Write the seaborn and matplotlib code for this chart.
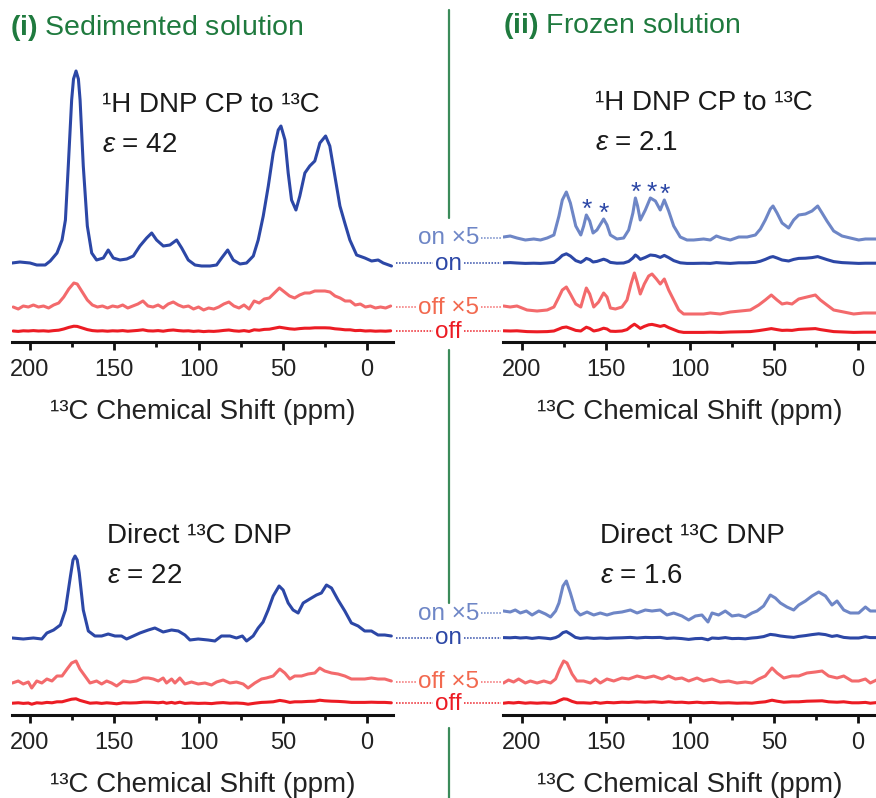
import numpy as np
import pandas as pd
import seaborn as sns
import matplotlib.pyplot as plt
from matplotlib.ticker import MultipleLocator

# Spectra: (ppm, intensity) with intensity in px above the trace baseline.
# "x5" traces are the magnified copies; the plain trace is the same spectrum / 5.

# (i) sedimented, 1H DNP CP to 13C, microwaves on
sed_cp_on = [
    (210.7, 0), (206, 1), (200, 0), (196, -2), (191, -2), (188, 2), (184, 10), (181, 23),
    (179, 43), (177.3, 97), (175.3, 163), (174.2, 184), (172.7, 192), (171.3, 184), (170.3, 163),
    (168.4, 97), (166, 37),
    (163.4, 10), (160.5, 3), (156.5, 5), (153.6, 13), (150.6, 5), (146.6, 3), (142.6, 4),
    (138.7, 7), (134.8, 17), (130.8, 25), (127.8, 30), (124.9, 23), (120.9, 17), (117, 18),
    (113, 23), (110, 15), (106.1, 3), (102.1, -2), (98.2, -3), (93.2, -3), (89.3, -2),
    (86.3, 5), (82.7, 13), (79.4, 3), (75.4, -1), (71.5, 0), (67.5, 7), (64.6, 23), (61.6, 47),
    (58.6, 77), (55.7, 110), (52.7, 133), (51.1, 137), (48.7, 123), (46.8, 90), (44.8, 63),
    (42.2, 53), (39.9, 67), (36.9, 90), (34, 97), (31, 102), (28, 120), (24.6, 127),
    (22.1, 117), (19.1, 87), (16.1, 57), (13.2, 40), (10.2, 23), (6.2, 8), (1.3, 5),
    (-2.7, 2), (-6.6, 3), (-9.6, 0), (-14.5, -3),
]
# (i) sedimented, CP, microwaves off (x5 trace)
sed_cp_off_x5 = [
    (210, 0), (207, -2), (204, 1), (201, 0), (198, 2), (195, 0), (192, 1), (189, -1), (186, 2),
    (183, 4), (180, 10), (177, 18), (174, 24), (172, 23), (169, 15), (166, 7), (163, 2), (160, 0),
    (157, 1), (154, -1), (151, 1), (148, 0), (145, 2), (142, -1), (139, 1), (136, 3), (133, 6),
    (130, 1), (127, 0), (124, 2), (121, -1), (118, 3), (115, 5), (112, 2), (109, 0), (106, 1),
    (103, -2), (100, 0), (97, -3), (94, -1), (91, -2), (88, 0), (85, 3), (82, 5), (79, 1),
    (76, -1), (73, 2), (70, -2), (67, 6), (64, 4), (61, 8), (58, 9), (55, 14), (52, 19), (49, 15),
    (46, 11), (43, 9), (40, 12), (37, 14), (34, 14), (31, 16), (28, 16), (25, 16), (22, 15),
    (19, 11), (16, 9), (13, 6), (10, 6), (7, 2), (4, 3), (1, 0), (-2, 1), (-5, -1), (-8, 0),
    (-11, -1), (-14, 1),
]
# (ii) frozen, CP, microwaves on (x5 trace)
frz_cp_on_x5 = [
    (211, 1), (207, 2), (203, 0), (198, -2), (193, -1), (189, -2), (185, 0), (181, 3), (178, 22),
    (176, 38), (173.6, 46), (171.2, 35), (168, 12), (165, 3), (163.3, 12), (161.7, 23),
    (159.7, 17), (157.7, 5), (155.4, 8), (151.4, 19), (149.4, 13), (147.4, 3), (143.5, -1),
    (139.5, 0), (136.5, 8), (134, 25), (132.5, 40), (131.2, 32), (129.6, 18), (126.6, 28),
    (123.6, 40), (120.6, 37), (117.7, 28), (115.3, 38), (112.7, 27), (109.7, 12), (105.8, 1),
    (101.8, -2), (97.8, -2), (91.9, -1), (87.9, -2), (84.3, 2), (81, 0), (76, -2), (71, 1),
    (66, 1), (61.1, 3), (58.1, 9), (55.2, 18), (52.2, 29), (50.6, 32), (48.2, 25), (45.2, 15),
    (41.3, 10), (38.3, 18), (35.3, 23), (31.3, 24), (27.4, 27), (24, 32), (21.4, 25),
    (18.5, 17), (14.5, 7), (9.5, 2), (4.6, 0), (-0.4, -2), (-4.4, -1), (-11, -1),
]
# (ii) frozen, CP, microwaves off (x5 trace)
frz_cp_off_x5 = [
    (211, 1), (207, 0), (203, 1), (197, -3), (191, -4), (185, -3), (181, 0), (178, 10), (176, 17),
    (173.6, 20), (171.2, 13), (168, 3), (165, 0), (163.3, 10), (161.7, 19), (159.7, 13),
    (157.3, 0), (154.4, 5), (151.4, 14), (149.4, 10), (147.4, -1), (144.4, -2), (140.5, 0),
    (137.5, 7), (135.1, 23), (133.1, 34), (131.5, 25), (129.6, 13), (127.2, 23), (124.6, 31),
    (122.6, 33), (120, 28), (117.7, 23), (115.3, 28), (112.7, 17), (109.7, 7), (106.7, -3),
    (103.8, -7), (97.8, -7), (91.9, -7), (87.9, -6), (82, -7), (76, -5), (70, -4), (64.1, -3),
    (59.1, 2), (55.2, 7), (51.6, 12), (48.2, 7), (45.2, 3), (42.3, 4), (39.3, 3), (35.3, 8),
    (30.4, 10), (25.4, 12), (22.4, 7), (18.5, 2), (14.5, -3), (8.5, -5), (2.6, -7), (-3.4, -6),
    (-11, -6),
]
# (i) sedimented, direct 13C DNP, microwaves on
sed_dir_on = [
    (210.5, 0), (204, -1), (198, 0), (193, -1), (190, 5), (186, 8), (182, 13), (179, 28),
    (176, 62), (174.5, 78), (173.3, 82), (172, 78), (170.8, 65), (168.4, 28), (165.4, 7),
    (161.5, 2), (157.5, 2),
    (153.6, 4), (149.6, 2), (145.7, 2), (142.7, -1), (138.7, 2), (134.8, 5), (129.8, 8),
    (125.9, 10), (121, 6), (116, 8), (112, 7), (108.1, 3), (105.1, -2), (100.2, -1), (94.3, -2),
    (90.3, -3), (86.4, 2), (81.4, 2), (77.5, 0), (74, 2), (71.5, -3), (67.6, 2), (64.6, 10),
    (61.7, 16), (58.7, 28), (55.7, 42), (52.2, 52), (49.8, 48), (46.8, 35), (43.9, 28),
    (40.9, 25), (37.9, 35), (34, 39), (30, 43), (27.1, 45), (24.1, 53), (21.1, 50), (17.2, 38),
    (13.2, 27), (9.3, 15), (5.3, 12), (1.4, 7), (-2.6, 7), (-6.5, 3), (-10.5, 3), (-14.4, 2),
]
# (i) sedimented, direct, microwaves off (x5 trace)
sed_dir_off_x5 = [
    (210.5, -1), (207, 1), (204, -2), (201, 0), (199, -6), (196, 1), (193, -1), (190, 3),
    (187, 1), (184, 6), (181, 6), (178, 13), (175.3, 19), (172.7, 21), (170.4, 13), (167.4, 6),
    (164.4, -1), (160.5, 1), (157.5, -2), (154.5, 1), (151.6, -1), (148.6, -4), (144.7, 1),
    (140.7, 0), (136.8, 1), (132.8, 4), (129.8, 4), (126.9, 3), (123.9, 1), (121, 4), (119, -1),
    (116, 3), (114, -1), (111.1, 4), (108.1, -2), (104.2, 0), (100.2, -2), (96.2, -1),
    (92.3, -3), (89.3, 0), (85.4, 2), (81.4, -1), (77.5, 0), (73.5, -2), (70.6, -6), (66.6, -1),
    (62.6, 3), (59.7, 4), (55.7, 6), (51.8, 13), (48.8, 9), (45.8, 3), (42.9, 6), (38.9, 6),
    (35, 8), (31, 9), (28.1, 14), (25.1, 11), (21.1, 9), (17.2, 8), (13.2, 6), (9.3, 3),
    (5.3, 3), (1.4, 3), (-2.6, 4), (-6.5, 3), (-10.5, 3), (-14.4, 1),
]
# (ii) frozen, direct, microwaves on (x5 trace)
frz_dir_on_x5 = [
    (211, 2), (207, 1), (204, 3), (201, 0), (197.4, 2), (194, -2), (190, 2), (186, -1), (183, -4),
    (180, 2), (178, 10), (175.6, 27), (173.6, 32), (171.2, 20), (168.2, 3), (165.3, -2),
    (161.3, 1), (157.3, -2), (153.4, 0), (149.4, -2), (145.4, 0), (140.5, 1), (135.5, 3),
    (131.5, 0), (126.6, 3), (122.6, 2), (117.7, 3), (113.7, -2), (109.7, 0), (104.8, -3),
    (100.8, -7), (96.8, -3), (92.9, -2), (89.3, -9), (86.9, 0), (83, -2), (79, 2), (75, -3),
    (71, -2), (67.1, -4), (63.1, 0), (60.1, 2), (56.2, 7), (52.2, 18), (49.2, 15), (46.2, 10),
    (42.3, 6), (38.3, 3), (35.3, 8), (31.3, 12), (27.4, 17), (23.4, 21), (19.4, 17), (15.5, 8),
    (12.5, 12), (8.5, 3), (4.6, 0), (-0.4, 0), (-4.4, 6), (-7.3, 2), (-11, 2),
]
# (ii) frozen, direct, microwaves off (x5 trace)
frz_dir_off_x5 = [
    (211, -1), (208, 2), (205, 0), (202, 3), (198, -1), (195, 1), (191, -1), (187, 1), (183, -1),
    (180, 3), (177.6, 13), (175.2, 21), (173.2, 19), (170.2, 8), (167.3, 1), (163.3, 1),
    (159.3, -1), (156.3, 3), (153.4, -1), (149.4, 3), (145.4, 1), (140.5, 4), (136.5, 3),
    (131.5, 6), (126.6, 4), (121.6, 6), (116.7, 3), (112.7, 6), (108.7, 3), (104.8, 4),
    (100.8, 1), (95.8, 4), (91.9, 1), (86.9, 3), (82, 0), (77, 1), (72, -1), (67.1, 0),
    (63.1, -1), (59.1, 3), (55.2, 6), (51.2, 14), (48.2, 9), (44.2, 4), (39.3, 6), (35.3, 6),
    (30.4, 9), (25.4, 10), (21.4, 11), (17.5, 6), (12.5, 4), (8.5, 6), (3.6, 1), (-0.4, 1),
    (-4.4, 3), (-7.3, -1), (-11, 2),
]

# peaks marked with an asterisk in the frozen CP spectrum (ppm)
star_ppm = [161.7, 151.4, 132.5, 122.8, 115.3]

titles = ["(i)", "Sedimented solution", "(ii)", "Frozen solution"]
methods = ["¹H DNP CP to ¹³C", "Direct ¹³C DNP"]
enhancements = ["42", "2.1", "22", "1.6"]
x5 = 5

C_ON = "#2c47a6"
C_ON5 = "#6e86c6"
C_OFF5 = "#f36a6c"
C_OFF5_TXT = "#f2694f"
C_OFF = "#ec1c24"
GREEN = "#1f7a3e"

W, H = 876, 798
sns.set_theme(style="white")
plt.rcParams["font.family"] = ["Liberation Sans", "DejaVu Sans"]
plt.rcParams["mathtext.fontset"] = "custom"
plt.rcParams["mathtext.rm"] = "Liberation Sans"
plt.rcParams["mathtext.it"] = "Liberation Sans:italic"
plt.rcParams["mathtext.bf"] = "Liberation Sans:bold"

fig = plt.figure(figsize=(W / 100, H / 100), dpi=100)


def add_panel(x0, x1, ytop, ybot, xlim):
    ax = fig.add_axes([x0 / W, 1 - ybot / H, (x1 - x0) / W, (ybot - ytop) / H])
    ax.set_xlim(*xlim)
    ax.set_ylim(0, ybot - ytop)
    ax.patch.set_alpha(0)
    return ax


def draw(ax, pts, offset, color, factor=1.0):
    df = pd.DataFrame(pts, columns=["ppm", "intensity"])
    df["y"] = offset + df["intensity"] * factor
    sns.lineplot(data=df, x="ppm", y="y", ax=ax, color=color, lw=2.2,
                 estimator=None, sort=True)


def finish(ax):
    for s in ["top", "left", "right"]:
        ax.spines[s].set_visible(False)
    ax.spines["bottom"].set_linewidth(2.2)
    ax.spines["bottom"].set_color("#111111")
    ax.xaxis.set_major_locator(MultipleLocator(50))
    ax.xaxis.set_minor_locator(MultipleLocator(25))
    ax.tick_params(axis="x", which="major", bottom=True, length=6, width=2, color="#111111",
                   labelsize=17, labelcolor="#222222", pad=6.5)
    ax.tick_params(axis="x", which="minor", bottom=True, length=3.5, width=2, color="#111111")
    ax.set_yticks([])
    ax.set_ylabel("")
    ax.set_xlabel("¹³C Chemical Shift (ppm)", fontsize=20, color="#222222", labelpad=13)


# layout in pixels: (x0, x1, ytop, ybot)
L_X, R_X = (12, 393), (503, 876)
TOP_Y, BOT_Y = (50, 342), (520, 715)
XL_L, XL_R = (210.7, -15.4), (211.3, -10.7)

ax_tl = add_panel(*L_X, *TOP_Y, XL_L)
ax_tr = add_panel(*R_X, *TOP_Y, XL_R)
ax_bl = add_panel(*L_X, *BOT_Y, XL_L)
ax_br = add_panel(*R_X, *BOT_Y, XL_R)

# baseline offsets (px above spine)
off_top = {"on5": 104, "on": 79, "off5": 35, "off": 11}
off_bot = {"on5": 102, "on": 77, "off5": 33, "off": 12}

draw(ax_tl, sed_cp_on, off_top["on"], C_ON)
draw(ax_tl, sed_cp_off_x5, off_top["off5"], C_OFF5)
draw(ax_tl, sed_cp_off_x5, off_top["off"], C_OFF, 1 / x5)

draw(ax_tr, frz_cp_on_x5, off_top["on5"], C_ON5)
draw(ax_tr, frz_cp_on_x5, off_top["on"], C_ON, 1 / x5)
draw(ax_tr, frz_cp_off_x5, off_top["off5"], C_OFF5)
draw(ax_tr, frz_cp_off_x5, off_top["off"], C_OFF, 1 / x5)

draw(ax_bl, sed_dir_on, off_bot["on"], C_ON)
draw(ax_bl, sed_dir_off_x5, off_bot["off5"], C_OFF5)
draw(ax_bl, sed_dir_off_x5, off_bot["off"], C_OFF, 1 / x5)

draw(ax_br, frz_dir_on_x5, off_bot["on5"], C_ON5)
draw(ax_br, frz_dir_on_x5, off_bot["on"], C_ON, 1 / x5)
draw(ax_br, frz_dir_off_x5, off_bot["off5"], C_OFF5)
draw(ax_br, frz_dir_off_x5, off_bot["off"], C_OFF, 1 / x5)

for ax in [ax_tl, ax_tr, ax_bl, ax_br]:
    finish(ax)

# asterisks above the marked peaks
cp_on5 = np.array(frz_cp_on_x5, dtype=float)
for p in star_ppm:
    near = np.abs(cp_on5[:, 0] - p) < 2.5
    top = off_top["on5"] + cp_on5[near, 1].max()
    ax_tr.text(p, top - 2, "*", color=C_ON, fontsize=19, ha="center", va="baseline")

# overlay in pixel coordinates for titles, labels and divider
ov = fig.add_axes([0, 0, 1, 1], zorder=10)
ov.set_xlim(0, W)
ov.set_ylim(H, 0)
ov.axis("off")
ov.patch.set_alpha(0)

ov.text(10, 35, rf"$\mathbf{{{titles[0]}}}$ {titles[1]}", color=GREEN, fontsize=20.5, va="baseline")
ov.text(503, 33, rf"$\mathbf{{{titles[2]}}}$ {titles[3]}", color=GREEN, fontsize=20.5, va="baseline")

txt_kw = dict(fontsize=20, color="#1a1a1a", va="baseline")
ov.text(102, 112, methods[0], **txt_kw)
ov.text(102, 152, r"$\mathit{ε}$ = " + enhancements[0], **txt_kw)
ov.text(595, 110, methods[0], **txt_kw)
ov.text(595, 150, r"$\mathit{ε}$ = " + enhancements[1], **txt_kw)
ov.text(107, 543, methods[1], **txt_kw)
ov.text(107, 583, r"$\mathit{ε}$ = " + enhancements[2], **txt_kw)
ov.text(600, 543, methods[1], **txt_kw)
ov.text(600, 583, r"$\mathit{ε}$ = " + enhancements[3], **txt_kw)

# divider
for y0, y1 in [(10, 218), (350, 603), (728, 798)]:
    ov.plot([449, 449], [y0, y1], color="#3b8b5a", lw=1.6)

# middle labels linking traces across panels
fig.canvas.draw()
renderer = fig.canvas.get_renderer()
inv = ov.transData.inverted()
xc = 448.5
for ybot, offs in [(TOP_Y[1], off_top), (BOT_Y[1], off_bot)]:
    rows = [("on ×5", "on5", C_ON5, C_ON5, False),
            ("on", "on", C_ON, C_ON, True),
            ("off ×5", "off5", C_OFF5_TXT, C_OFF5, True),
            ("off", "off", C_OFF, C_OFF, True)]
    for label, key, tcol, lcol, left in rows:
        yrow = ybot - offs[key]
        t = ov.text(xc, yrow + 6.5, label, color=tcol, fontsize=17.5, ha="center", va="baseline")
        bb = t.get_window_extent(renderer)
        (bx0, _), (bx1, _) = inv.transform([[bb.x0, bb.y0], [bb.x1, bb.y1]])
        ov.plot([bx1 + 2, R_X[0] - 2], [yrow, yrow], color=lcol, lw=1.1, ls=(0, (1, 1)))
        if left:
            ov.plot([L_X[1] + 3, bx0 - 2], [yrow, yrow], color=lcol, lw=1.1, ls=(0, (1, 1)))

fig.savefig("out.png", dpi=100, facecolor="white")
